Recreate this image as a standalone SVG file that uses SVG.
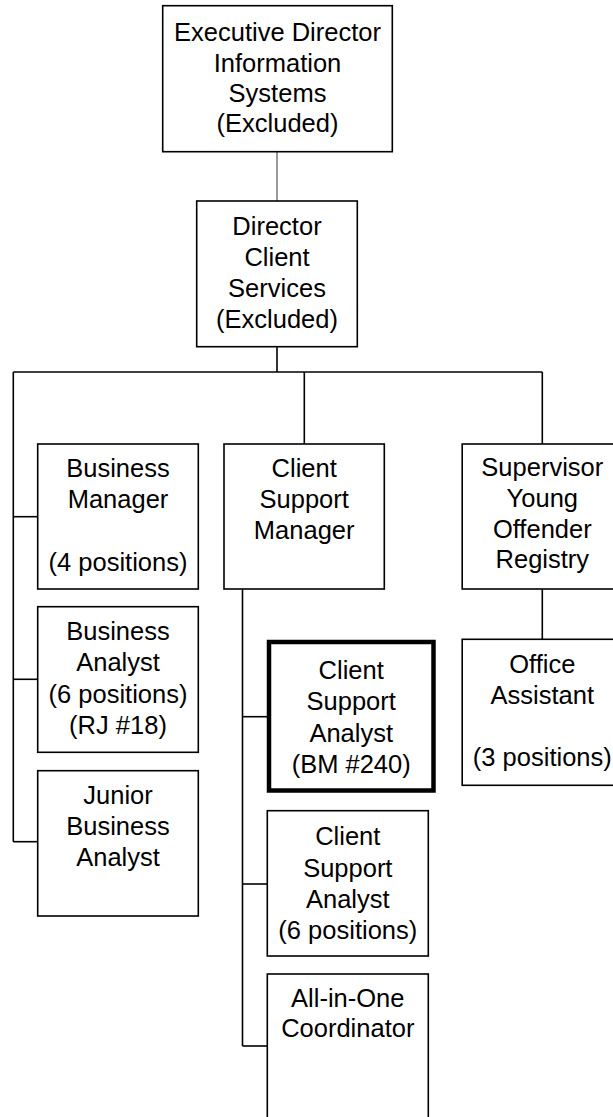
<svg xmlns="http://www.w3.org/2000/svg" width="613" height="1117" viewBox="0 0 613 1117">
  <style>
    .box { fill: #ffffff; stroke: #000000; stroke-width: 1.6; }
    .box-bold { fill: #ffffff; stroke: #000000; stroke-width: 4.5; }
    .wire { fill: none; stroke: #000000; stroke-width: 1.6; }
    .wire-light { fill: none; stroke: #555555; stroke-width: 1.2; }
    text { font-family: "Liberation Sans", Arial, sans-serif; font-size: 25.5px; fill: #000000; text-anchor: middle; }
  </style>
  <rect width="613" height="1117" fill="#ffffff"/>

  <!-- reporting lines -->
  <g id="connectors">
    <line class="wire-light" x1="277" y1="152" x2="277" y2="201"/>
    <line class="wire" x1="277" y1="347" x2="277" y2="372"/>
    <line class="wire" x1="13.3" y1="372" x2="542.3" y2="372"/>
    <line class="wire" x1="304.3" y1="372" x2="304.3" y2="444"/>
    <line class="wire" x1="542.3" y1="372" x2="542.3" y2="444"/>
    <!-- left branch -->
    <line class="wire" x1="13.3" y1="372" x2="13.3" y2="841.7"/>
    <line class="wire" x1="13.3" y1="516.7" x2="37.7" y2="516.7"/>
    <line class="wire" x1="13.3" y1="679.3" x2="37.7" y2="679.3"/>
    <line class="wire" x1="13.3" y1="841.7" x2="37.7" y2="841.7"/>
    <!-- client support branch -->
    <line class="wire" x1="242.5" y1="589" x2="242.5" y2="1046"/>
    <line class="wire" x1="242.5" y1="716.7" x2="269" y2="716.7"/>
    <line class="wire" x1="242.5" y1="884" x2="267.3" y2="884"/>
    <line class="wire" x1="242.5" y1="1046" x2="267.3" y2="1046"/>
    <!-- registry branch -->
    <line class="wire" x1="542.3" y1="589" x2="542.3" y2="639.3"/>
  </g>

  <g id="exec-director">
    <rect class="box" x="162.7" y="5.7" width="229.6" height="146"/>
    <text x="277.5" y="41">Executive Director</text>
    <text x="277.5" y="71.5">Information</text>
    <text x="277.5" y="102">Systems</text>
    <text x="277.5" y="132">(Excluded)</text>
  </g>

  <g id="director-client-services">
    <rect class="box" x="196.7" y="201" width="160.6" height="145.7"/>
    <text x="277" y="235">Director</text>
    <text x="277" y="266">Client</text>
    <text x="277" y="297">Services</text>
    <text x="277" y="328">(Excluded)</text>
  </g>

  <g id="business-manager">
    <rect class="box" x="37.7" y="444" width="160.6" height="145"/>
    <text x="118" y="477">Business</text>
    <text x="118" y="508">Manager</text>
    <text x="118" y="571">(4 positions)</text>
  </g>

  <g id="business-analyst">
    <rect class="box" x="37.7" y="606.7" width="160.6" height="145.6"/>
    <text x="118" y="640">Business</text>
    <text x="118" y="671">Analyst</text>
    <text x="118" y="702.5">(6 positions)</text>
    <text x="118" y="733.5">(RJ #18)</text>
  </g>

  <g id="junior-business-analyst">
    <rect class="box" x="37.7" y="770.7" width="160.6" height="145.3"/>
    <text x="118" y="803.5">Junior</text>
    <text x="118" y="834.5">Business</text>
    <text x="118" y="865.5">Analyst</text>
  </g>

  <g id="client-support-manager">
    <rect class="box" x="224" y="444" width="160.3" height="145"/>
    <text x="304.2" y="477">Client</text>
    <text x="304.2" y="508">Support</text>
    <text x="304.2" y="539">Manager</text>
  </g>

  <g id="client-support-analyst-bm240">
    <rect class="box-bold" x="269" y="642" width="164.5" height="148.5"/>
    <text x="351.2" y="679">Client</text>
    <text x="351.2" y="710">Support</text>
    <text x="351.2" y="741.5">Analyst</text>
    <text x="351.2" y="773">(BM #240)</text>
  </g>

  <g id="client-support-analyst">
    <rect class="box" x="267.3" y="810.7" width="161" height="145.3"/>
    <text x="347.8" y="845">Client</text>
    <text x="347.8" y="876.5">Support</text>
    <text x="347.8" y="907.5">Analyst</text>
    <text x="347.8" y="938.5">(6 positions)</text>
  </g>

  <g id="all-in-one-coordinator">
    <rect class="box" x="267.3" y="974" width="161" height="160"/>
    <text x="347.8" y="1006.5">All-in-One</text>
    <text x="347.8" y="1037">Coordinator</text>
  </g>

  <g id="supervisor-yor">
    <rect class="box" x="462.2" y="444" width="160.3" height="145"/>
    <text x="542.3" y="476">Supervisor</text>
    <text x="542.3" y="507">Young</text>
    <text x="542.3" y="537.5">Offender</text>
    <text x="542.3" y="568">Registry</text>
  </g>

  <g id="office-assistant">
    <rect class="box" x="462.2" y="639.3" width="160.3" height="146"/>
    <text x="542.3" y="672.5">Office</text>
    <text x="542.3" y="703.5">Assistant</text>
    <text x="542.3" y="765.5">(3 positions)</text>
  </g>
</svg>
